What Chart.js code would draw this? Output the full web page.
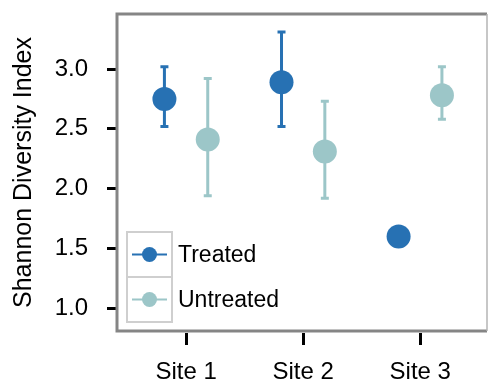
<!DOCTYPE html>
<html>
<head>
<meta charset="utf-8">
<script src="https://cdn.jsdelivr.net/npm/chart.js@4/dist/chart.umd.min.js"></script>
<style>
  body { margin: 0; background: #fff; }
</style>
</head>
<body>
<canvas id="diversity" width="489" height="383"></canvas>
<script>
// data
var sites = ['Site 1', 'Site 2', 'Site 3'];
var yTicks = [1.0, 1.5, 2.0, 2.5, 3.0];

var treatedMean = [2.75, 2.89, 1.60];
var treatedLow = [2.52, 2.52, null];
var treatedHigh = [3.02, 3.31, null];

var untreatedMean = [2.41, 2.31, 2.78];
var untreatedLow = [1.94, 1.92, 2.58];
var untreatedHigh = [2.92, 2.73, 3.02];

var treatedColor = '#2771b3';
var untreatedColor = '#9cc6c8';
var fontFamily = '"Liberation Sans", Arial, Helvetica, sans-serif';

// side by side shift of the two groups inside a site
var dodge = 0.185;

function buildPoints(means, lows, highs, shift) {
    var pts = [];
    for (var i = 0; i < means.length; i++) {
        pts.push({x: i + 1 + shift, y: means[i], low: lows[i], high: highs[i]});
    }
    return pts;
}

// error bars with small caps, drawn under the points
var errorBars = {
    id: 'errorBars',
    beforeDatasetsDraw: function(chart) {
        var ctx = chart.ctx;
        var xs = chart.scales.x;
        var ys = chart.scales.y;
        chart.data.datasets.forEach(function(ds) {
            ctx.save();
            ctx.strokeStyle = ds.backgroundColor;
            ctx.lineWidth = 3;
            ds.data.forEach(function(p) {
                if (p.low == null || p.high == null) return;
                var px = xs.getPixelForValue(p.x);
                var top = ys.getPixelForValue(p.high);
                var bot = ys.getPixelForValue(p.low);
                ctx.beginPath();
                ctx.moveTo(px, top);
                ctx.lineTo(px, bot);
                ctx.moveTo(px - 4, top);
                ctx.lineTo(px + 4, top);
                ctx.moveTo(px - 4, bot);
                ctx.lineTo(px + 4, bot);
                ctx.stroke();
            });
            ctx.restore();
        });
    }
};

// boxed legend in the lower left corner of the plot
var boxLegend = {
    id: 'boxLegend',
    afterDatasetsDraw: function(chart) {
        var ctx = chart.ctx;
        var area = chart.chartArea;
        var cell = 45;
        var left = area.left + 10;
        var top = area.bottom - 9 - cell * 2;
        ctx.save();
        ctx.fillStyle = '#fff';
        ctx.fillRect(left, top, cell, cell * 2);
        ctx.strokeStyle = '#cfcfcf';
        ctx.lineWidth = 2;
        ctx.strokeRect(left, top, cell, cell * 2);
        ctx.beginPath();
        ctx.moveTo(left, top + cell);
        ctx.lineTo(left + cell, top + cell);
        ctx.stroke();
        chart.data.datasets.forEach(function(ds, i) {
            var cy = top + cell * i + cell / 2;
            var cx = left + cell / 2;
            ctx.strokeStyle = ds.backgroundColor;
            ctx.lineWidth = 2;
            ctx.beginPath();
            ctx.moveTo(left + 5, cy);
            ctx.lineTo(left + cell - 5, cy);
            ctx.stroke();
            ctx.fillStyle = ds.backgroundColor;
            ctx.beginPath();
            ctx.arc(cx, cy, 7.5, 0, Math.PI * 2);
            ctx.fill();
            ctx.fillStyle = '#000';
            ctx.font = '23px ' + fontFamily;
            ctx.textBaseline = 'middle';
            ctx.textAlign = 'left';
            ctx.fillText(ds.label, left + cell + 6, cy + 1);
        });
        ctx.restore();
    }
};

// grey frame round the plot area
var frame = {
    id: 'frame',
    afterDraw: function(chart) {
        var ctx = chart.ctx;
        var a = chart.chartArea;
        ctx.save();
        ctx.strokeStyle = '#858585';
        ctx.lineWidth = 3;
        ctx.beginPath();
        ctx.moveTo(a.right, a.top);
        ctx.lineTo(a.left, a.top);
        ctx.lineTo(a.left, a.bottom);
        ctx.lineTo(a.right, a.bottom);
        ctx.stroke();
        ctx.strokeStyle = '#b5b5b5';
        ctx.lineWidth = 1.5;
        ctx.beginPath();
        ctx.moveTo(a.right, a.top);
        ctx.lineTo(a.right, a.bottom);
        ctx.stroke();
        ctx.restore();
    }
};

var ctx = document.getElementById('diversity').getContext('2d');
var chart = new Chart(ctx, {
    type: 'scatter',
    data: {
        datasets: [{
            label: 'Treated',
            data: buildPoints(treatedMean, treatedLow, treatedHigh, -dodge),
            backgroundColor: treatedColor,
            borderColor: treatedColor,
            pointRadius: 12,
            pointHoverRadius: 12,
            borderWidth: 0
        }, {
            label: 'Untreated',
            data: buildPoints(untreatedMean, untreatedLow, untreatedHigh, dodge),
            backgroundColor: untreatedColor,
            borderColor: untreatedColor,
            pointRadius: 12,
            pointHoverRadius: 12,
            borderWidth: 0
        }]
    },
    options: {
        responsive: false,
        animation: false,
        layout: { autoPadding: false, padding: { top: 14, right: 2, left: 0, bottom: 0 } },
        plugins: {
            legend: { display: false },
            tooltip: { enabled: false }
        },
        scales: {
            x: {
                type: 'linear',
                min: 0.41,
                max: 3.57,
                afterBuildTicks: function(scale) {
                    scale.ticks = sites.map(function(s, i) { return {value: i + 1}; });
                },
                afterFit: function(scale) {
                    scale.height = 52;
                    scale.paddingLeft = 0;
                    scale.paddingRight = 0;
                },
                border: { display: false },
                grid: {
                    drawOnChartArea: false,
                    drawTicks: true,
                    tickLength: 14,
                    tickWidth: 3,
                    tickColor: '#000',
                    tickBorderDash: [0, 2, 12, 100]
                },
                ticks: {
                    color: '#000',
                    padding: 13,
                    font: { size: 24, family: fontFamily },
                    callback: function(v) { return sites[Math.round(v) - 1]; }
                }
            },
            y: {
                min: 0.81,
                max: 3.46,
                afterBuildTicks: function(scale) {
                    scale.ticks = yTicks.map(function(v) { return {value: v}; });
                },
                afterFit: function(scale) {
                    scale.width = 117;
                    scale.paddingTop = 0;
                    scale.paddingBottom = 0;
                },
                border: { display: false },
                grid: {
                    drawOnChartArea: false,
                    drawTicks: true,
                    tickLength: 13,
                    tickWidth: 3,
                    tickColor: '#000',
                    tickBorderDash: [0, 3, 10, 100]
                },
                ticks: {
                    color: '#000',
                    padding: 16,
                    font: { size: 24, family: fontFamily },
                    callback: function(v) { return v.toFixed(1); }
                },
                title: {
                    display: true,
                    text: 'Shannon Diversity Index',
                    color: '#000',
                    font: { size: 25, family: fontFamily },
                    padding: { top: 9, bottom: 0 }
                }
            }
        }
    },
    plugins: [errorBars, boxLegend, frame]
});
</script>
</body>
</html>
